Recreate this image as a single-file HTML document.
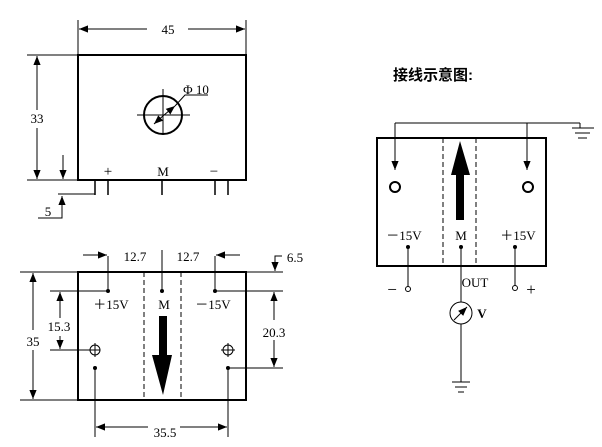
<!DOCTYPE html>
<html><head><meta charset="utf-8"><style>body{margin:0;background:#fff}svg{display:block}</style></head><body>
<svg width="602" height="447" viewBox="0 0 602 447" xmlns="http://www.w3.org/2000/svg" font-family="Liberation Serif, serif" font-size="13">
<defs><marker id="a" viewBox="0 0 10 10" refX="10" refY="5" markerWidth="9" markerHeight="9" markerUnits="userSpaceOnUse" orient="auto-start-reverse"><path d="M0,1 L10,5 L0,9z" fill="#000"/></marker></defs>
<g stroke="#000" fill="none" stroke-width="1">
<rect x="78" y="55" width="168" height="125" stroke-width="2"/>
<line x1="78" y1="20" x2="78" y2="55"/><line x1="246" y1="20" x2="246" y2="55"/>
<line x1="147" y1="29" x2="79" y2="29" marker-end="url(#a)"/><line x1="188" y1="29" x2="245" y2="29" marker-end="url(#a)"/>
<line x1="27" y1="55" x2="78" y2="55"/><line x1="27" y1="180" x2="78" y2="180"/>
<line x1="37" y1="110" x2="37" y2="56" marker-end="url(#a)"/><line x1="37" y1="128" x2="37" y2="179" marker-end="url(#a)"/>
<line x1="63" y1="155" x2="63" y2="179" marker-end="url(#a)"/>
<g stroke-width="1.5"><line x1="95" y1="180" x2="95" y2="195"/><line x1="108" y1="180" x2="108" y2="195"/><line x1="162" y1="180" x2="162" y2="195"/><line x1="215" y1="180" x2="215" y2="195"/><line x1="228" y1="180" x2="228" y2="195"/></g>
<line x1="58" y1="194" x2="95" y2="194"/><polyline points="38,218 62,218 62,214"/><line x1="62" y1="214" x2="62" y2="196" marker-end="url(#a)"/>
<circle cx="163" cy="115" r="19" stroke-width="2"/>
<line x1="137" y1="115" x2="190" y2="115"/><line x1="163" y1="89" x2="163" y2="135"/>
<line x1="164" y1="115" x2="154" y2="124" marker-end="url(#a)"/><line x1="164" y1="115" x2="175" y2="106" marker-end="url(#a)"/>
<polyline points="175,106 185,95 208,95"/>
<rect x="78" y="272" width="168" height="128" stroke-width="2"/>
<line x1="144" y1="272" x2="144" y2="400" stroke-dasharray="5,3"/><line x1="181" y1="272" x2="181" y2="400" stroke-dasharray="5,3"/>
<line x1="108" y1="256" x2="108" y2="291"/><line x1="162" y1="250" x2="162" y2="291"/><line x1="215" y1="256" x2="215" y2="291"/>
<line x1="83" y1="255" x2="107" y2="255" marker-end="url(#a)"/><line x1="240" y1="255" x2="216" y2="255" marker-end="url(#a)"/>
<polyline points="282,256 275,256 275,260"/><line x1="275" y1="260" x2="275" y2="271" marker-end="url(#a)"/>
<line x1="20" y1="272" x2="78" y2="272"/><line x1="246" y1="272" x2="283" y2="272"/>
<line x1="20" y1="400" x2="78" y2="400"/>
<line x1="50" y1="291" x2="108" y2="291"/><line x1="215" y1="291" x2="283" y2="291"/>
<line x1="33" y1="330" x2="33" y2="273" marker-end="url(#a)"/><line x1="33" y1="350" x2="33" y2="399" marker-end="url(#a)"/>
<line x1="60" y1="318" x2="60" y2="292" marker-end="url(#a)"/><line x1="60" y1="336" x2="60" y2="349" marker-end="url(#a)"/>
<line x1="50" y1="350" x2="100" y2="350"/>
<circle cx="95" cy="350" r="5"/><line x1="95" y1="343" x2="95" y2="357"/>
<circle cx="228" cy="350" r="5"/><line x1="228" y1="343" x2="228" y2="357"/><line x1="221" y1="350" x2="235" y2="350"/>
<line x1="95" y1="368" x2="95" y2="437"/><line x1="228" y1="368" x2="228" y2="437"/>
<line x1="228" y1="368" x2="283" y2="368"/>
<line x1="148" y1="427" x2="96" y2="427" marker-end="url(#a)"/><line x1="180" y1="427" x2="227" y2="427" marker-end="url(#a)"/>
<line x1="274" y1="320" x2="274" y2="292" marker-end="url(#a)"/><line x1="274" y1="340" x2="274" y2="367" marker-end="url(#a)"/>
<rect x="377" y="138" width="169" height="128" stroke-width="2"/>
<line x1="443" y1="138" x2="443" y2="266" stroke-dasharray="5,3"/><line x1="476" y1="138" x2="476" y2="266" stroke-dasharray="5,3"/>
<line x1="395" y1="123" x2="580" y2="123"/>
<line x1="395" y1="123" x2="395" y2="170" marker-end="url(#a)"/><line x1="527" y1="123" x2="527" y2="170" marker-end="url(#a)"/>
<line x1="580" y1="123" x2="580" y2="128"/>
<line x1="572" y1="128" x2="594" y2="128"/><line x1="575" y1="133" x2="590" y2="133"/><line x1="578" y1="138" x2="587" y2="138"/>
<circle cx="395" cy="187" r="5" stroke-width="2"/><circle cx="528" cy="187" r="5" stroke-width="2"/>
<line x1="408" y1="247" x2="408" y2="287"/><circle cx="408" cy="289" r="2.5"/>
<line x1="515" y1="247" x2="515" y2="286"/><circle cx="515" cy="288" r="2.5"/>
<line x1="461" y1="247" x2="461" y2="302"/><circle cx="461" cy="313" r="11"/>
<line x1="454" y1="320" x2="467" y2="307" marker-end="url(#a)"/>
<line x1="461" y1="324" x2="461" y2="382"/>
<line x1="452" y1="382" x2="470" y2="382"/><line x1="455" y1="387" x2="467" y2="387"/><line x1="458" y1="392" x2="464" y2="392"/>
</g>
<g fill="#000">
<circle cx="108" cy="291" r="2"/><circle cx="162" cy="291" r="2"/><circle cx="215" cy="291" r="2"/>
<circle cx="95" cy="368" r="2"/><circle cx="228" cy="368" r="2"/>
<path d="M159,316 H167 V355 H172 L163,395 L152,355 H159z"/>
<path d="M456,220 H464 V175 H470 L460,141 L451,175 H456z"/>
<circle cx="408" cy="247" r="2"/><circle cx="461" cy="247" r="2"/><circle cx="515" cy="247" r="2"/>
<g text-anchor="middle">
<text x="168" y="34">45</text><text x="37" y="123">33</text><text x="48" y="216">5</text>
<text x="108" y="176" font-size="15">+</text><text x="163" y="176">M</text><text x="214" y="176" font-size="15">−</text>
<text x="196" y="94">Φ 10</text>
<text x="135" y="261">12.7</text><text x="188" y="261">12.7</text><text x="295" y="262">6.5</text>
<text x="33" y="346">35</text><text x="59" y="331">15.3</text><text x="274" y="337">20.3</text><text x="165" y="437">35.5</text>
<text x="111" y="309">＋15V</text><text x="164" y="309">M</text><text x="213" y="309">－15V</text>
<text x="404" y="240">－15V</text><text x="461" y="240">M</text><text x="518" y="240">＋15V</text>
<text x="475" y="287">OUT</text><text x="392" y="295" font-size="17">−</text><text x="531" y="295" font-size="17">+</text>
<text x="482" y="318" font-weight="bold">V</text>
</g>
<text x="393" y="80" font-family="Liberation Sans, Noto Sans CJK SC, sans-serif" font-size="15" font-weight="bold">接线示意图:</text>
</g>
</svg>
</body></html>
